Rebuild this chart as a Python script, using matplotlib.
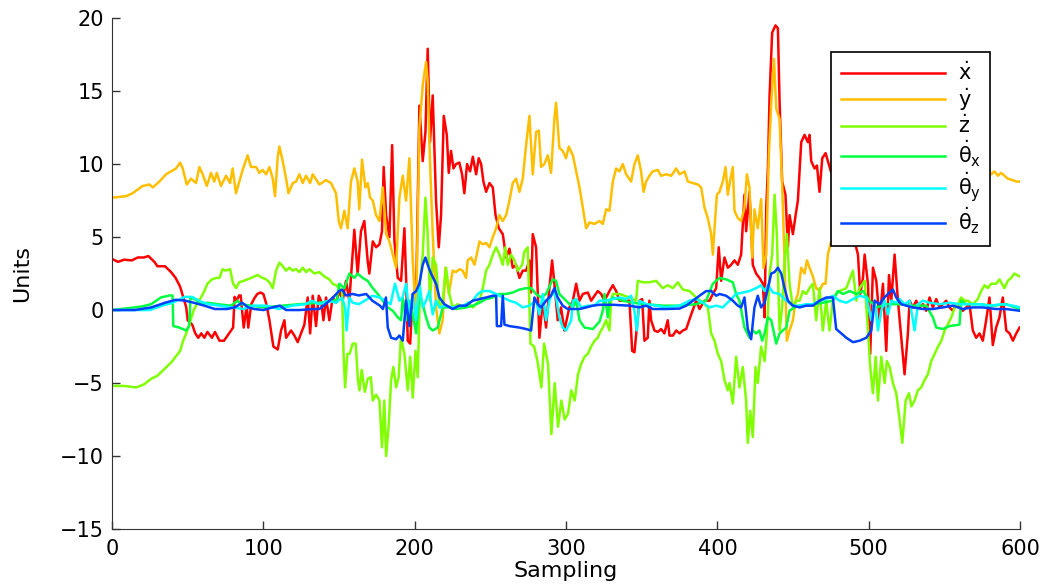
import numpy as np
import matplotlib
matplotlib.use("Agg")
import matplotlib.pyplot as plt

# (sample, value) pairs
x_dot = [(0, 3.5), (4, 3.3), (8, 3.45), (13, 3.4), (17, 3.6), (21, 3.6), (24, 3.7), (28, 3.3), (30, 3.0), (35, 3.0),
         (39, 2.6), (42, 2.2), (45, 1.6), (47, 0.9), (49, 0.2), (50, -0.7), (53, -1.0), (55, -1.6), (57, -1.9),
         (59, -1.6), (61, -1.9), (63, -1.5), (66, -1.9), (68, -1.5), (70, -1.9), (71, -2.1), (74, -2.1), (78, -1.5),
         (80, -1.2), (81, 0.9), (82, 0.6), (84, 1.0), (85, 1.0), (87, -1.2), (89, 0.3), (90, -1.2), (92, 0.4),
         (94, 0.8), (96, 1.1), (98, 1.2), (100, 1.1), (102, 0.4), (104, -0.7), (106.6, -2.5), (109.5, -2.7),
         (111.7, -1.4), (113.9, -0.7), (115, -1.9), (118.3, -1.4), (120.5, -1.75), (122.7, -2.2), (124.9, -1.6),
         (127.1, -1.0), (129.3, 0.86), (130.9, -1.6), (132.6, 0.98), (134.8, -1.1), (136.6, 0.98), (138.1, 0.64),
         (139.7, -0.7), (141.4, 0.86), (143.6, -0.7), (145.8, 0.86), (148, 0.5), (150.2, 1.3), (152.4, 0.64),
         (154.6, 2.0), (156.8, 0.64), (160.1, 5.5), (162.3, 2.5), (164.5, 5.4), (166.7, 6.1), (168.9, 3.4),
         (170, 2.5), (172.3, 4.7), (174.5, 4.3), (176.7, 4.5), (178.4, 5.4), (179.5, 9.8), (181.1, 6.5),
         (183.3, 5.0), (185.1, 11.3), (186.6, 4.7), (188.8, 2.2), (191, 2.0), (193.2, 5.6), (194.3, 2.2),
         (195.4, -2.1), (197, -2.3), (198.7, 1.1), (200.9, 0.64), (203.1, 14.0), (205.3, 10.2), (207.1, 12.2),
         (208.6, 17.9), (210.1, 11.5), (211.9, 14.7), (214.1, 7.5), (215.9, 4.3), (217.4, 6.5), (219.2, 13.3),
         (221.2, 12.0), (222.5, 9.4), (224, 10.9), (225.6, 9.7), (227.3, 10.0), (229.5, 10.1), (231.3, 9.3),
         (232.8, 8.0), (234.6, 10.0), (236.6, 9.5), (238.4, 10.5), (240.6, 9.3), (242.3, 10.4), (243.9, 10.0),
         (245.4, 8.8), (247.2, 8.1), (249.4, 8.7), (251.6, 8.4), (253.4, 6.5), (255.6, 5.6), (258.2, 5.2),
         (260.4, 3.6), (262.6, 4.2), (264.8, 2.9), (267, 3.1), (269.2, 2.2), (271.4, 2.7), (273.6, 2.7),
         (275.8, 3.4), (276.9, 1.2), (278, 5.2), (280.2, 4.3), (282.4, -1.9), (284.6, 0.64), (286.8, -1.2),
         (289, 1.5), (290.8, 3.4), (292.3, 1.8), (294.5, -0.7), (296.7, 0.18), (298.9, -1.4), (302.2, 0.18),
         (304.5, 0.64), (306.7, 1.8), (308.9, 0.64), (311.1, 1.1), (314.4, 1.2), (316.6, 0.64), (318.8, 0.98),
         (321, 1.3), (323.2, 1.1), (325.4, 0.64), (328.7, 1.3), (330.9, 1.7), (333.1, 1.3), (335.3, 0.64),
         (338.6, 0.64), (341.9, 0.64), (343.7, -2.8), (345.2, -2.9), (346.8, -1.2), (348.5, 0.64), (350.3, 0.75),
         (351.8, -2.1), (354, -1.9), (355.1, 0.64), (356.2, -0.7), (358.4, -1.4), (360.6, -1.5), (362.8, -1.3),
         (365, -1.6), (367.2, -0.7), (368.4, -1.75), (370.6, -1.75), (372.8, -1.4), (375, -1.6), (377.2, -1.4),
         (379.4, -1.3), (382.7, -0.3), (386, 0.64), (388.2, 0.07), (391.5, 0.64), (394.8, 0.64), (397, 1.1),
         (399.2, 1.5), (400.9, 4.3), (402.5, 2.0), (404.7, 3.6), (406.9, 2.9), (409.1, 3.1), (411.3, 3.4),
         (413.5, 3.1), (415.7, 3.8), (417.9, 7.9), (419, 5.4), (421.2, 8.1), (423.4, 3.1), (425.6, 2.5),
         (427.8, 2.2), (430.1, 1.8), (431.2, -0.5), (432.3, 7.0), (433.4, 9.7), (434.5, 14.7), (436.2, 19.0),
         (438.4, 19.5), (440, 19.3), (441.1, 14.3), (442.8, 8.8), (445, 7.9), (446.6, 4.3), (447.7, 6.5),
         (449.9, 5.2), (451.7, 6.5), (453.2, 7.5), (455.4, 11.5), (457.6, 12.0), (459.8, 11.5), (460.9, 12.0),
         (462, 10.2), (464.2, 9.7), (465.8, 9.9), (467.5, 8.1), (469.3, 10.4), (471.5, 10.75), (475, 9.5),
         (480, 8.5), (485, 6.0), (488.5, 7.5), (490.7, 4.7), (492.9, 3.8), (494.4, 1.1), (496.2, 2.2),
         (497.3, 3.8), (499.5, 1.8), (501, -3.0), (502.8, 2.9), (505, 2.0), (507.2, -0.7), (509.4, 1.8),
         (511.6, -2.8), (513.4, 2.4), (514.9, 0.64), (517.1, 3.8), (519.3, 0.64), (521.5, -1.9), (523.7, -4.4),
         (525.9, -1.6), (527, 0.64), (529.2, 0.18), (531.4, 0.64), (533.6, 0.18), (535.8, 0.4), (538, -0.05),
         (540.2, 0.86), (542.4, 0.18), (544.6, 0.75), (546.8, 0.18), (549, 0.4), (551.2, 0.64), (553.4, 0.18),
         (555.6, -0.05), (557.8, 0.4), (560, 0.18), (562.2, -0.05), (564.4, 0.18), (566.6, 0.4), (568.8, -1.4),
         (571, -1.9), (573.2, -1.6), (575.4, -2.1), (577.6, -0.7), (579.8, 0.86), (582, -2.4), (584.2, -1.2),
         (586.4, -0.5), (588.6, 0.86), (590.9, -1.4), (593.1, -1.6), (595.3, -2.1), (597.5, -1.6), (599.7, -1.2)]

y_dot = [(0, 7.7), (9.2, 7.8), (13.6, 8.0), (20.2, 8.5), (24.7, 8.6), (26.9, 8.4), (31.3, 8.8), (35.7, 9.3),
         (39, 9.5), (42.3, 9.7), (45, 10.1), (46.7, 9.7), (49.4, 8.6), (52.2, 9.0), (55.5, 8.7), (57.7, 9.8),
         (59.9, 9.3), (62.6, 8.5), (65.4, 9.4), (67.6, 8.8), (69.2, 9.4), (72, 8.5), (75.3, 9.2), (78, 8.7),
         (79.7, 9.7), (81.9, 8.0), (84.1, 8.8), (86.3, 9.6), (89.6, 10.6), (91.8, 9.8), (95.2, 9.8), (97.3, 9.4),
         (99.5, 9.6), (101.8, 9.3), (104, 9.8), (106.2, 9.0), (107.7, 7.8), (109.5, 10.5), (110.6, 11.2),
         (112.8, 10.2), (115, 9.0), (116.6, 8.0), (119.4, 8.7), (121.6, 8.8), (123.8, 9.3), (126, 8.7),
         (128.2, 9.2), (130.9, 8.7), (132.6, 9.3), (137, 8.6), (141.4, 8.9), (144.7, 8.7), (148, 8.0),
         (149.8, 6.1), (151.3, 5.6), (153.5, 6.8), (155.7, 5.6), (157.9, 8.8), (160.1, 9.7), (162.3, 8.8),
         (163.4, 6.9), (165.2, 10.3), (167.4, 8.4), (169, 8.7), (170.5, 7.7), (172.3, 7.5), (174.5, 6.5),
         (176.7, 6.1), (178.9, 8.4), (181.1, 5.2), (183.3, 4.7), (185.5, 3.8), (187.7, 2.9), (189.9, 7.7),
         (192.1, 9.2), (194.3, 7.5), (196.5, 10.4), (198.7, 3.4), (200.9, -0.7), (203.1, 12.5), (205.3, 15.4),
         (207.5, 17.0), (208.6, 15.6), (210.1, 10.2), (211.9, 5.2), (214.1, 0.18), (216.3, -1.6), (218.5, -0.7),
         (220.3, 2.9), (222.5, 1.1), (225.1, 2.7), (227.3, 2.6), (229.5, 2.8), (231.7, 2.7), (233.9, 2.2),
         (235, 3.4), (237.3, 3.6), (239.5, 3.1), (241, 3.8), (242.8, 4.7), (245, 4.5), (247.2, 4.6), (249.4, 4.3),
         (251.6, 5.0), (253.8, 5.6), (256, 6.5), (258.2, 6.1), (260.4, 6.5), (262.6, 7.5), (264.8, 8.7),
         (267, 9.0), (269.2, 8.1), (271.4, 9.0), (273.6, 11.3), (275.8, 13.3), (278, 9.3), (280.2, 12.2),
         (282, 12.3), (283.5, 9.8), (285.7, 10.0), (287.9, 10.6), (290.1, 9.4), (292.3, 13.1), (293.4, 14.2),
         (295.6, 11.1), (297.8, 10.9), (300, 10.4), (301.8, 11.2), (304.5, 10.6), (306.7, 9.5), (308.9, 8.4),
         (311.1, 7.0), (313.3, 5.6), (315.5, 6.0), (318.8, 5.9), (322.1, 6.1), (324.3, 5.9), (326.5, 6.9),
         (328.7, 6.8), (330.9, 8.8), (333.1, 9.7), (335.3, 9.5), (337.5, 10.0), (339.7, 9.3), (343, 8.8),
         (345.2, 10.0), (347.4, 10.6), (349.6, 9.5), (351.2, 8.1), (352.9, 8.8), (355.1, 9.2), (357.3, 9.5),
         (360.6, 9.6), (362.8, 9.2), (366.1, 9.3), (369.5, 9.2), (372.8, 9.7), (375, 9.3), (378.3, 9.5),
         (380.5, 8.8), (383.8, 8.7), (387.1, 8.6), (389.3, 8.4), (391.5, 7.0), (393.7, 6.3), (395.9, 5.2),
         (397, 3.8), (398.1, 5.6), (399.7, 7.9), (401.4, 8.1), (403.6, 8.8), (405.4, 9.8), (406.9, 7.9),
         (408.5, 8.9), (410.2, 9.8), (411.3, 6.8), (413.5, 6.3), (415.7, 6.1), (417.9, 7.0), (419.5, 9.3),
         (421.2, 8.4), (423, 3.6), (424.5, 6.9), (426.7, 5.6), (428.9, 7.6), (430.5, 2.9), (432.3, 3.8),
         (434, 10.6), (435.6, 14.2), (437.4, 17.2), (438.9, 13.8), (441.1, 13.1), (442.8, 8.6), (444.4, 3.4),
         (445.9, -2.1), (447.7, -1.4), (449.9, -0.7), (451.7, 0.64), (453.2, 1.1), (455.4, 2.9), (457.6, 2.5),
         (459.2, 3.4), (460.9, 2.9), (463.1, 2.3), (465.3, 1.5), (467.5, 1.3), (469.7, 1.8), (471.5, 1.8),
         (473, 3.8), (475.2, 4.7), (477.4, 5.2), (480, 5.5), (484, 6.2), (490, 7.0), (500, 8.5), (515, 9.5),
         (530, 9.6), (545, 8.8), (548, 4.5), (552, 8.5), (560, 9.2), (578.7, 9.7), (580.9, 9.3), (583.1, 9.5),
         (585.3, 9.2), (587.5, 9.4), (589.7, 9.2), (591.9, 9.0), (595.3, 8.9), (597.5, 8.8), (599.7, 8.8)]

z_dot = [(0, -5.2), (8, -5.2), (16, -5.3), (21, -5.1), (26, -4.7), (30, -4.5), (35, -4.0), (39, -3.6), (45, -2.8),
         (47, -2.1), (49, -1.6), (51, -1.0), (54, 0.0), (56, 0.4), (59, 0.9), (61, 1.3), (63, 1.8), (66, 2.1),
         (69, 2.2), (71, 2.2), (73, 2.8), (75, 2.7), (78, 2.8), (80, 1.8), (82, 1.5), (84, 1.9), (87, 2.0),
         (92, 2.2), (96, 2.4), (99.5, 2.2), (101.8, 2.1), (104, 1.9), (106.2, 1.5), (108.4, 2.7), (110.6, 3.25),
         (112.8, 3.0), (115, 2.7), (117.2, 2.9), (119.4, 2.7), (121.6, 2.8), (123.8, 2.6), (126, 2.9),
         (128.2, 2.6), (130.4, 2.8), (133.7, 2.5), (137, 2.6), (140.3, 2.3), (143.6, 2.1), (145.8, 1.8),
         (148, 1.7), (150.2, 1.5), (152, 1.3), (153, -3.0), (154, -5.3), (155.5, -3.0), (157, -3.0), (159, -2.3),
         (161, -2.3), (162.5, -4.8), (163.5, -5.5), (165, -4.1), (167, -5.6), (169, -4.7), (171, -4.6),
         (172.3, -6.2), (174.5, -5.8), (176.7, -6.2), (178.4, -9.4), (179.9, -6.2), (181.1, -10.0), (182.8, -7.9),
         (184.4, -4.8), (185.9, -3.9), (187.7, -5.3), (189.4, -4.6), (190.9, -1.9), (193.2, -3.0), (195.4, -5.5),
         (197, -3.2), (198.7, -6.0), (200.5, -2.8), (202, -4.6), (203.6, 2.0), (205.3, 3.8), (207.1, 7.7),
         (208.6, 5.2), (210.1, 0.64), (211.9, 3.6), (214.1, 3.1), (216.3, 0.18), (218.5, 0.64), (220.7, 2.9),
         (222.9, 1.1), (225.1, 0.18), (228.4, 0.4), (231.7, 0.18), (235, 0.5), (238.4, 0.18), (242.8, 0.64),
         (245, 1.5), (247.2, 2.7), (249.4, 3.1), (251.6, 3.8), (253.8, 4.3), (256, 3.8), (258.2, 3.1),
         (259.9, 4.3), (261.5, 3.1), (263.7, 3.8), (265.9, 3.4), (268.1, 2.7), (271, 3.1), (272.5, 4.0),
         (274.7, 4.3), (276.5, -2.3), (278.9, -2.5), (281.1, -3.5), (283.7, -5.3), (285.5, -2.3), (288.1, -3.7),
         (290.3, -8.5), (292.5, -5.0), (294.7, -8.0), (296.9, -6.2), (299.1, -7.5), (301.3, -7.1), (303.5, -5.5),
         (305.7, -6.2), (307.9, -4.4), (310, -3.7), (312.2, -3.2), (314.4, -3.0), (316.6, -2.5), (318.8, -2.1),
         (321, -1.9), (322.1, -1.6), (324.3, -1.2), (326.5, -0.7), (328.7, -1.4), (329.8, 0.64), (330.9, 1.1),
         (335.3, 1.1), (341.9, 0.86), (346.3, 0.64), (347.4, 2.0), (350.7, 1.9), (355.1, 1.9), (359.5, 2.0),
         (363.9, 1.5), (367.2, 1.7), (370.6, 1.5), (373.9, 1.9), (377.2, 1.4), (381.6, 1.3), (386, 0.86),
         (390.4, 0.5), (393.7, 0.18), (395.9, -1.6), (398.1, -2.1), (400.3, -3.0), (402.5, -3.5), (404.7, -4.8),
         (406.9, -5.5), (408, -5.0), (410.2, -6.4), (412.4, -3.2), (414.6, -5.3), (416.8, -3.9), (419, -6.2),
         (420.1, -9.1), (421.7, -6.9), (423.4, -8.7), (425.2, -3.9), (426.7, -5.0), (428.9, -2.5), (431.2, -3.5),
         (432.7, -1.6), (434.5, 2.5), (436.2, 3.8), (437.8, 7.9), (439.3, 5.2), (441.1, -1.4), (442.8, 0.18),
         (444.4, 3.4), (445.9, 5.2), (447.7, 1.8), (449.9, 0.18), (452.1, 0.64), (454.3, 0.64), (456.5, 1.3),
         (458.7, 1.1), (460.9, 1.5), (463.1, 1.8), (465.3, -0.7), (467.5, 1.5), (469.7, -1.4), (471.9, 0.64),
         (474.1, -1.4), (476.3, 0.64), (478.5, 1.1), (480.7, 1.3), (485.2, 1.5), (489.6, 2.7), (491.8, 0.64),
         (494, 1.5), (497.3, 2.0), (499.5, -1.4), (501, -3.9), (502.8, -5.7), (504.6, -3.2), (506.1, -6.2),
         (508.3, -3.2), (510.5, -5.0), (512, -3.5), (513.8, -3.9), (516, -5.0), (518.2, -5.7), (520.4, -7.5),
         (522.2, -9.1), (524.4, -6.2), (526.6, -5.7), (528.2, -6.6), (530.3, -6.2), (532.5, -5.5), (534.7, -5.3),
         (536.9, -4.8), (539.1, -4.4), (541.3, -3.5), (543.6, -3.0), (545.8, -2.5), (548, -2.1), (550.2, -1.4),
         (552.4, -0.95), (554.6, -0.5), (556.8, 0.18), (559, 0.4), (561.1, 0.86), (563.3, 0.64), (565.5, 0.64),
         (568.8, 0.4), (572.1, 0.75), (574.3, 1.3), (576.5, 1.7), (578.7, 1.5), (580.9, 1.8), (584.2, 1.8),
         (586.4, 2.1), (589.7, 1.5), (591.9, 2.0), (594.1, 2.2), (596.3, 2.5), (599.7, 2.3)]

theta_x_dot = [(0, 0.0), (15, 0.18), (20, 0.25), (25.8, 0.4), (32.3, 0.86), (37.9, 1.0), (40, 1.0), (40.5, -1.1),
               (44.5, -1.2), (48.9, -1.4), (51, -1.1), (51.8, 0.86), (54.5, 0.75), (59, 0.4), (63.2, 0.5),
               (69.8, 0.4), (78.6, 0.3), (83, 0.64), (85.2, 0.4), (91.8, 0.3), (100.6, 0.18), (112.8, 0.3),
               (123.8, 0.4), (137, 0.5), (145.8, 0.64), (148.5, 0.7), (150.2, 1.8), (153.5, 1.5), (156.8, 2.5),
               (160.1, 2.2), (162.3, 2.5), (165.6, 2.2), (168.9, 2.0), (172.3, 1.5), (175.6, 1.1), (178.9, 0.64),
               (182.2, 0.18), (185.5, -0.05), (188.8, -0.5), (191, -0.7), (192.1, 0.86), (194.3, -0.7),
               (196.5, 0.64), (198.7, -0.3), (200.9, -1.6), (203.1, 1.1), (205.3, 0.4), (207.5, -0.5),
               (209.7, -1.2), (211.9, -1.4), (215.2, -1.2), (218.5, 0.18), (222.9, 0.18), (227.3, 0.07),
               (233.9, 0.18), (238.4, 0.3), (242.8, 0.5), (247.2, 0.75), (251.6, 0.86), (256, 1.1), (260.4, 1.1),
               (264.8, 1.2), (269.2, 1.4), (273.6, 1.5), (276.9, 1.5), (280.2, 1.1), (283.5, 0.86), (286.8, 1.1),
               (291.2, 2.1), (293.4, 2.0), (295.6, 1.1), (300, 0.64), (304.5, 0.18), (306.7, 0.64), (308.9, -0.7),
               (312.2, -1.2), (317.7, -1.3), (322.1, -0.8), (324.3, -0.05), (325.4, 1.1), (327.6, -0.5),
               (328.7, 0.64), (330.9, 0.86), (337.5, 0.64), (344.1, 0.5), (352.9, 0.4), (363.9, 0.3), (375, 0.3),
               (386, 0.4), (392.6, 0.64), (397, 1.8), (401.4, 2.2), (405.8, 2.1), (410.2, 1.9), (412.4, 1.1),
               (414.6, 0.64), (417.9, -1.2), (421.2, -1.9), (423.4, -1.4), (425.6, -1.6), (427.8, -1.4),
               (429.6, -2.1), (431.2, -1.6), (433.4, -0.5), (435.6, -0.7), (438.9, -2.3), (441.1, -1.6),
               (443.3, -1.4), (445.5, -1.2), (447.7, -0.05), (451, 0.18), (454.3, 0.3), (463.1, 0.4),
               (469.7, 0.5), (476.3, 0.64), (479.6, 1.3), (483, 1.1), (487.4, 1.3), (491.8, 1.1), (496.2, 1.3),
               (500.6, 0.64), (505, 0.18), (511.6, 0.4), (520.4, 0.4), (529.2, 0.3), (538, 0.3), (542.4, -0.5),
               (544.6, -1.2), (549, -1.3), (553.4, -1.1), (560, -1.0), (561.1, 0.64), (564.4, 0.4), (573.2, 0.4),
               (582, 0.3), (590.9, 0.4), (599.7, 0.07)]

theta_y_dot = [(0, 0.0), (25, 0.0), (33, 0.3), (40, 0.5), (48, 0.9), (53, 0.9), (58, 0.6), (64, 0.4), (71, 0.3),
               (80, 0.18), (87, 0.07), (93, 0.3), (102, 0.3), (110, 0.07), (119, 0.3), (128, 0.4), (132, 0.64),
               (137, 0.4), (143, 0.64), (148, 0.5), (152, 0.86), (154, 0.18), (155, -1.4), (156.8, 0.86),
               (159, 0.5), (163, 0.4), (167, 0.64), (172, 0.98), (177, 0.86), (180.5, 0.64), (184, 0.4),
               (187, 1.8), (189.9, 0.64), (192, 0.86), (194.3, 1.8), (196.5, -0.3), (198.7, 1.1), (200.9, -0.7),
               (203.1, 1.8), (205.3, 0.18), (207.5, 0.64), (209.7, 1.3), (211.9, -0.3), (214.1, 0.64),
               (216.3, 0.18), (220, 0.3), (225, 0.18), (232, 0.3), (238.4, 0.64), (241.7, 1.1), (244.5, 1.3),
               (249.4, 1.3), (253.8, 1.1), (258.2, 0.86), (262.6, 0.64), (266.9, 0.5), (271.4, 0.18),
               (275.8, 0.3), (280.2, 0.64), (282.4, -0.3), (284.6, 1.1), (286.8, -0.7), (289, 0.64), (291.2, 1.3),
               (293.4, 0.86), (295.6, -0.5), (297.8, -1.2), (300, -1.4), (303.4, -0.7), (304.5, 0.64),
               (306.7, 0.75), (310, 0.18), (314.4, 0.3), (318.8, 0.3), (322.1, 0.64), (326.5, 0.64), (330.9, 0.75),
               (335.3, 0.86), (339.7, 0.75), (343, 0.98), (345.2, -0.05), (346.8, -1.4), (348.5, 0.64),
               (352.9, 0.4), (359.5, 0.3), (366.1, 0.18), (375, 0.3), (381.6, 0.64), (386, 0.75), (390.4, 0.5),
               (394.8, 0.18), (399.2, 0.3), (403.6, 0.18), (408, 0.64), (412.4, 1.1), (416.8, 1.2), (421.2, 1.3),
               (425.6, 1.5), (428.9, 1.7), (431.2, 1.3), (433.4, 1.7), (436.7, 1.2), (441.1, 1.1), (445.5, 0.64),
               (449.9, 0.3), (454.3, 0.3), (458.7, 0.4), (463.1, 0.4), (467.5, 0.64), (471.9, 0.75), (476.3, 0.98),
               (480.7, 0.64), (485.2, 0.5), (489.6, 0.75), (494, 0.98), (498.4, 0.86), (501.7, -0.7),
               (503.9, 0.64), (506.1, -1.4), (508.3, -0.05), (510.5, 0.64), (512.7, -0.3), (514.9, 0.64),
               (518.2, 0.5), (520.4, 0.75), (523.7, 0.4), (527, 0.64), (530.3, -1.4), (532.5, 0.4), (535.8, 0.64),
               (540.2, 0.5), (546.8, 0.4), (553.4, 0.5), (560, 0.4), (566.6, 0.4), (573.2, 0.4), (579.8, 0.3),
               (588.6, 0.4), (595.3, 0.3), (599.7, 0.18)]

theta_z_dot = [(0, 0.0), (15, 0.0), (26, 0.18), (35, 0.5), (42, 0.7), (48, 0.65), (54, 0.5), (61, 0.3), (68, 0.07),
               (76, 0.07), (81, 0.18), (86, 0.5), (90, 0.18), (94, 0.07), (100, 0.0), (106, 0.18), (111, 0.3),
               (115, 0.0), (124, 0.0), (133, 0.07), (137, 0.07), (141, 0.4), (146, 0.86), (150, 1.3), (152, 1.4),
               (154.5, 1.0), (159, 1.1), (163, 1.0), (168, 1.1), (172, 0.64), (177, 0.3), (179, 0.07),
               (181, 0.86), (182.2, -1.2), (184.4, -1.9), (187.7, -2.0), (189.9, -1.75), (192.1, -2.1),
               (194.3, 0.64), (196.5, -1.1), (198.7, 1.1), (200.9, 1.3), (203.1, 1.8), (205.3, 3.1), (207.1, 3.6),
               (208.6, 3.1), (210.8, 2.5), (214.1, 1.8), (216.3, 0.86), (219.6, 0.4), (225.1, 0.07), (229.5, 0.3),
               (233.9, 0.3), (238.4, 0.64), (242.8, 0.75), (247.2, 0.86), (251.6, 0.98), (253.8, 0.98),
               (254.3, -1.1), (257.1, -1.1), (258.2, 0.98), (259.3, -1.0), (262.6, -1.1), (269.2, -1.2),
               (273.6, -1.3), (276.9, -1.4), (279.1, 0.86), (281.3, 0.4), (283.5, 0.18), (286.8, 0.64),
               (290.1, 0.98), (292.3, 1.5), (294.5, 0.86), (297.8, 0.3), (301.1, 0.07), (308.9, 0.07),
               (313.3, 0.18), (317.7, 0.3), (322.1, 0.36), (330.9, 0.36), (341.9, 0.3), (348.5, 0.18),
               (352.9, 0.3), (357.3, 0.07), (366.1, 0.07), (375, 0.1), (379.4, 0.3), (383.8, 0.64), (388.2, 0.98),
               (392.6, 1.3), (396, 1.3), (399.2, 0.98), (401.4, 1.1), (405.8, 0.98), (410.2, 0.64), (413.5, 0.3),
               (415.7, 0.18), (417.9, 0.86), (420.1, -1.3), (422.3, -2.0), (424.5, 0.18), (426.7, 0.98),
               (428.9, 0.18), (431.2, 0.5), (433.4, 1.5), (435.6, 2.5), (437.8, 2.6), (440, 2.9), (442.2, 2.5),
               (444.4, 1.5), (446.6, 0.64), (449.9, 0.3), (454.3, 0.18), (458.7, 0.3), (463.1, 0.3), (467.5, 0.64),
               (471.9, 0.86), (476.3, 0.86), (478.5, -1.3), (480.7, -1.5), (485.2, -1.9), (489.6, -2.2),
               (494, -2.1), (498.4, -1.9), (501.7, -1.4), (503.9, 0.64), (507.2, 0.4), (509.4, 0.75),
               (512.7, 1.1), (516, 1.4), (518.2, 0.86), (521.5, 0.4), (524.8, 0.3), (529.2, 0.18), (535.8, 0.07),
               (542.4, 0.07), (549, 0.18), (555.6, 0.3), (562.2, 0.07), (568.8, 0.18), (575.4, 0.18),
               (584.2, 0.07), (590.9, 0.07), (599.7, -0.05)]

series = [x_dot, y_dot, z_dot, theta_x_dot, theta_y_dot, theta_z_dot]
labels = [r'$\dot{\mathrm{x}}$', r'$\dot{\mathrm{y}}$', r'$\dot{\mathrm{z}}$',
          r'$\dot{\mathrm{θ}}_{\mathrm{x}}$', r'$\dot{\mathrm{θ}}_{\mathrm{y}}$', r'$\dot{\mathrm{θ}}_{\mathrm{z}}$']
colors = ['#ff0000', '#ffbf00', '#80ff00', '#00ff40', '#00ffff', '#0040ff']

plt.rcParams['font.family'] = ['DejaVu Sans']
plt.rcParams['mathtext.fontset'] = 'dejavusans'
plt.rcParams['axes.unicode_minus'] = True

fig = plt.figure(figsize=(10.49, 5.84), dpi=100)
ax = fig.add_axes([0.1068, 0.0942, 0.8656, 0.8748])

for data, lab, col in zip(series, labels, colors):
    arr = np.array(data)
    ax.plot(arr[:, 0], arr[:, 1], color=col, linewidth=1.8, label=lab)

ax.set_xlim(0, 600)
ax.set_ylim(-15, 20)
ax.set_xticks(np.arange(0, 601, 100))
ax.set_yticks(np.arange(-15, 21, 5))
ax.spines['top'].set_visible(False)
ax.spines['right'].set_visible(False)
ax.spines['left'].set_color('#333333')
ax.spines['bottom'].set_color('#333333')
ax.tick_params(direction='in', length=6, labelsize=15, width=1, colors='#333333', labelcolor='black')
ax.tick_params(axis='x', pad=7)
ax.tick_params(axis='y', pad=6)
ax.set_xlabel('Sampling', fontsize=16, labelpad=2)
ax.set_ylabel('Units', fontsize=16, labelpad=20)

leg = ax.legend(loc='upper right', bbox_to_anchor=(0.967, 0.9335), borderaxespad=0, fontsize=15,
                frameon=True, fancybox=False, edgecolor='black', framealpha=1, handlelength=5.0,
                handletextpad=0.6, labelspacing=0.08, borderpad=0.45)
leg.get_frame().set_linewidth(1.2)

fig.savefig('out.png', dpi=100)
